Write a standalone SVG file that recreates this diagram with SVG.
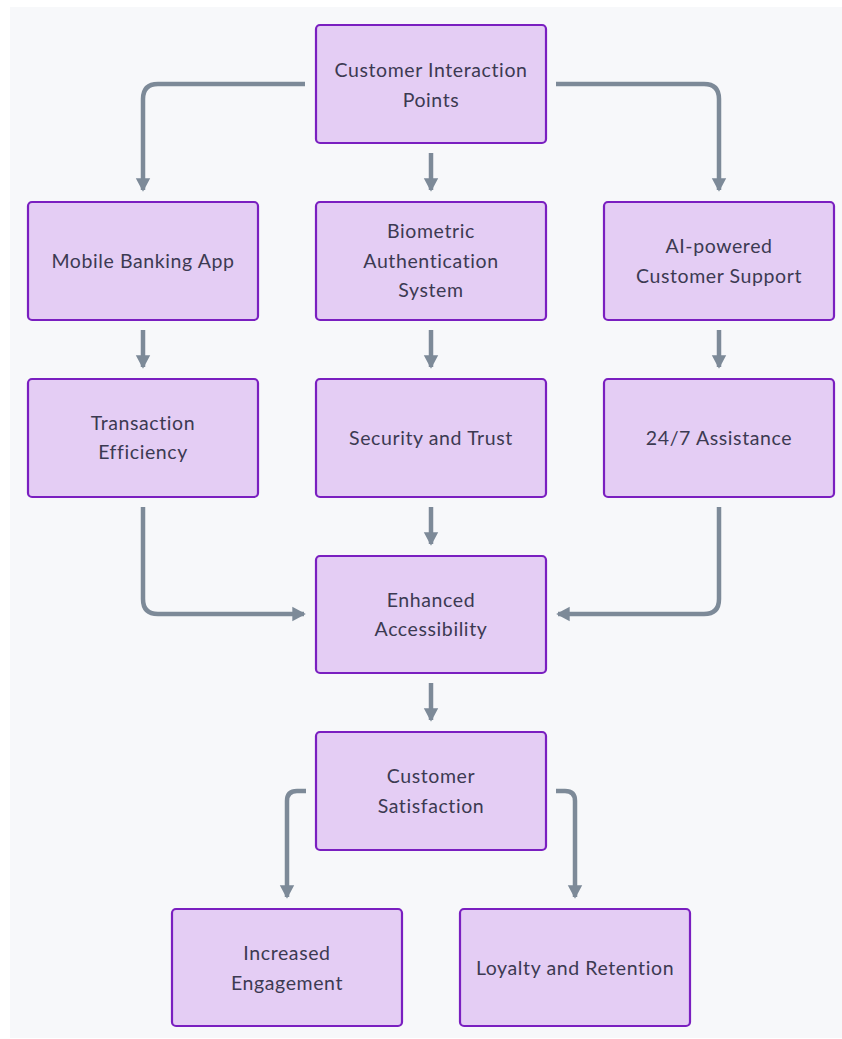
<svg xmlns="http://www.w3.org/2000/svg" width="842" height="1039" viewBox="0 0 842 1039">
<style>
.n rect{fill:#e4cdf4;stroke:#7a1fc0;stroke-width:2.2}
.n text{font-family:Lato,"Open Sans",sans-serif;font-size:19.5px;fill:#3c3a52;text-anchor:middle;letter-spacing:0.6px}
.c path{fill:none;stroke:#7d8a98;stroke-width:4.5}
</style>
<defs>
<marker id="ah" markerWidth="4" markerHeight="4" refX="2.6" refY="2" orient="auto" markerUnits="strokeWidth">
<path d="M0,0.4 L3,2 L0,3.6 Z" fill="#7d8a98"/>
</marker>
</defs>
<rect x="0" y="0" width="842" height="1039" fill="#ffffff"/>
<rect x="10" y="7" width="832" height="1031" fill="#f7f8fa"/>
<g class="c">
<path d="M305,84 H158 Q143,84 143,99 V190" marker-end="url(#ah)"/>
<path d="M431,153 V190" marker-end="url(#ah)"/>
<path d="M556,84 H704 Q719,84 719,99 V190" marker-end="url(#ah)"/>
<path d="M143,330 V367" marker-end="url(#ah)"/>
<path d="M431,330 V367" marker-end="url(#ah)"/>
<path d="M719,330 V367" marker-end="url(#ah)"/>
<path d="M143,507 V599 Q143,614 158,614 H304" marker-end="url(#ah)"/>
<path d="M431,507 V544" marker-end="url(#ah)"/>
<path d="M719,507 V599 Q719,614 704,614 H558" marker-end="url(#ah)"/>
<path d="M431,683 V720" marker-end="url(#ah)"/>
<path d="M306,791 H297 Q287,791 287,801 V897" marker-end="url(#ah)"/>
<path d="M556,791 H565 Q575,791 575,801 V897" marker-end="url(#ah)"/>
</g>
<g id="n1" class="n"><rect x="316" y="25" width="230" height="118" rx="4"/><text x="431" y="77">Customer Interaction</text><text x="431" y="107">Points</text></g>
<g id="n2" class="n"><rect x="28" y="202" width="230" height="118" rx="4"/><text x="143" y="268">Mobile Banking App</text></g>
<g id="n3" class="n"><rect x="316" y="202" width="230" height="118" rx="4"/><text x="431" y="238">Biometric</text><text x="431" y="268">Authentication</text><text x="431" y="297">System</text></g>
<g id="n4" class="n"><rect x="604" y="202" width="230" height="118" rx="4"/><text x="719" y="253">AI-powered</text><text x="719" y="283">Customer Support</text></g>
<g id="n5" class="n"><rect x="28" y="379" width="230" height="118" rx="4"/><text x="143" y="430">Transaction</text><text x="143" y="459">Efficiency</text></g>
<g id="n6" class="n"><rect x="316" y="379" width="230" height="118" rx="4"/><text x="431" y="445">Security and Trust</text></g>
<g id="n7" class="n"><rect x="604" y="379" width="230" height="118" rx="4"/><text x="719" y="445">24/7 Assistance</text></g>
<g id="n8" class="n"><rect x="316" y="556" width="230" height="117" rx="4"/><text x="431" y="607">Enhanced</text><text x="431" y="636">Accessibility</text></g>
<g id="n9" class="n"><rect x="316" y="732" width="230" height="118" rx="4"/><text x="431" y="783">Customer</text><text x="431" y="813">Satisfaction</text></g>
<g id="n10" class="n"><rect x="172" y="909" width="230" height="117" rx="4"/><text x="287" y="960">Increased</text><text x="287" y="990">Engagement</text></g>
<g id="n11" class="n"><rect x="460" y="909" width="230" height="117" rx="4"/><text x="575" y="975">Loyalty and Retention</text></g>
</svg>
